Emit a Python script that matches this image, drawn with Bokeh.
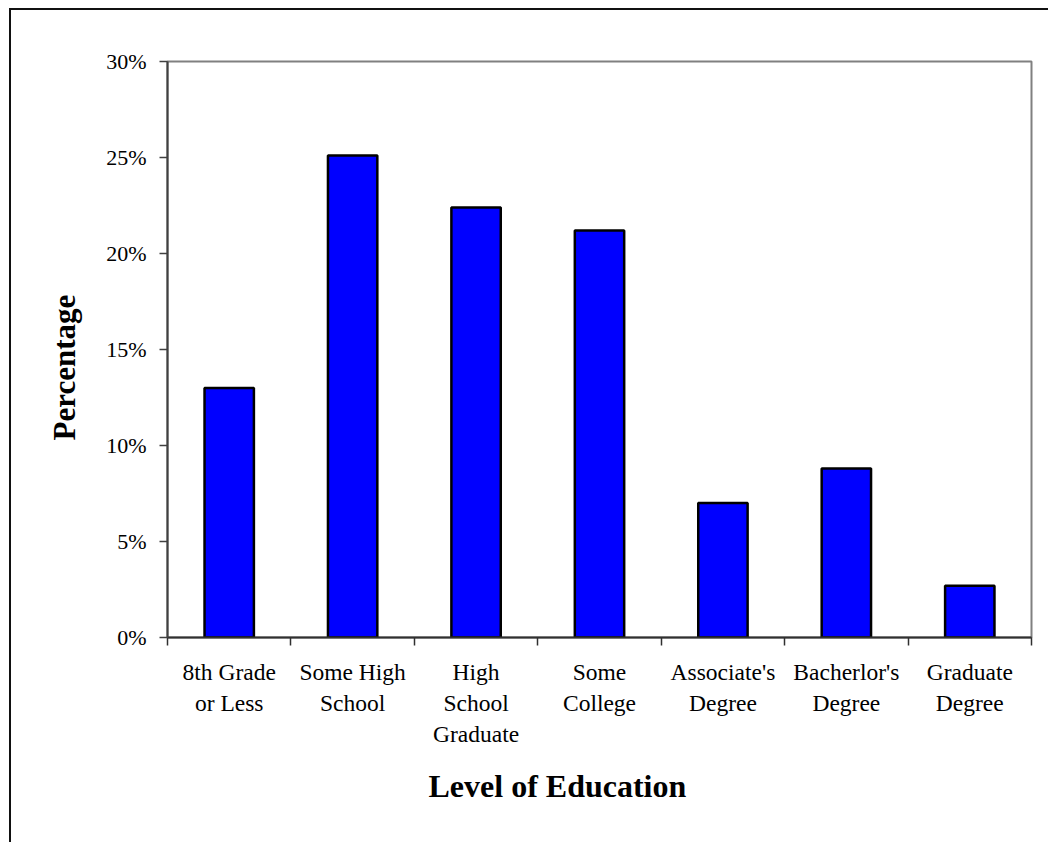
from bokeh.plotting import figure
from bokeh.models import Range1d, FixedTicker, PrintfTickFormatter, Title
from bokeh.embed import file_html
from bokeh.resources import INLINE

# Share of respondents by highest level of education (percent)
categories = [
    "8th Grade\nor Less",
    "Some High\nSchool",
    "High\nSchool\nGraduate",
    "Some\nCollege",
    "Associate's\nDegree",
    "Bacherlor's\nDegree",
    "Graduate\nDegree",
]
percentages = [13.0, 25.1, 22.4, 21.2, 7.0, 8.8, 2.7]
y_ticks = [0, 5, 10, 15, 20, 25, 30]

FONT = "Liberation Serif"

n = len(categories)
centers = [i + 0.5 for i in range(n)]
boundaries = list(range(n + 1))

p = figure(
    width=1039, height=834,
    output_backend="svg", toolbar_location=None,
    x_range=Range1d(0, n), y_range=Range1d(0, 30),
    min_border_left=156, min_border_right=19,
    min_border_top=51, min_border_bottom=207,
    styles={
        "margin-left": "9px", "margin-top": "8px",
        "border-left": "2px solid #111", "border-top": "2px solid #111",
    },
)
p.background_fill_color = "white"
p.border_fill_color = "white"
p.outline_line_color = "#808080"
p.outline_line_width = 2
p.xgrid.visible = False
p.ygrid.visible = False

p.vbar(x=centers, top=percentages, width=0.4, bottom=0,
       fill_color="#0000FF", line_color="black", line_width=2.5)

# y axis: percent ticks outside the frame
ya = p.yaxis[0]
ya.ticker = FixedTicker(ticks=y_ticks)
ya.formatter = PrintfTickFormatter(format="%d%%")
ya.axis_line_color = "#404040"
ya.axis_line_width = 2
ya.major_tick_line_color = "#404040"
ya.major_tick_line_width = 1.5
ya.major_tick_out = 8
ya.major_tick_in = 0
ya.minor_tick_out = 0
ya.minor_tick_in = 0
ya.major_label_standoff = 13
ya.major_label_text_font = FONT
ya.major_label_text_font_size = "22px"
ya.major_label_text_color = "black"

# x axis: labels at bar centres, tick marks between categories
xa = p.xaxis[0]
xa.ticker = FixedTicker(ticks=centers, minor_ticks=boundaries)
xa.major_label_overrides = {c: lab for c, lab in zip(centers, categories)}
xa.axis_line_color = "#303030"
xa.axis_line_width = 2
xa.major_tick_out = 0
xa.major_tick_in = 0
xa.minor_tick_out = 8
xa.minor_tick_in = 0
xa.minor_tick_line_color = "#303030"
xa.minor_tick_line_width = 1.5
xa.major_label_standoff = 13
xa.major_label_text_font = FONT
xa.major_label_text_font_size = "23.5px"
xa.major_label_text_color = "black"

x_title = Title(text="Level of Education", align="left", offset=261, standoff=32,
                text_font=FONT, text_font_size="32px", text_font_style="bold",
                text_color="black")
p.add_layout(x_title, "below")

y_title = Title(text="Percentage", align="left", offset=197, standoff=44,
                text_font=FONT, text_font_size="31px", text_font_style="bold",
                text_color="black")
p.add_layout(y_title, "left")

open("out.html", "w").write(file_html(p, INLINE))
